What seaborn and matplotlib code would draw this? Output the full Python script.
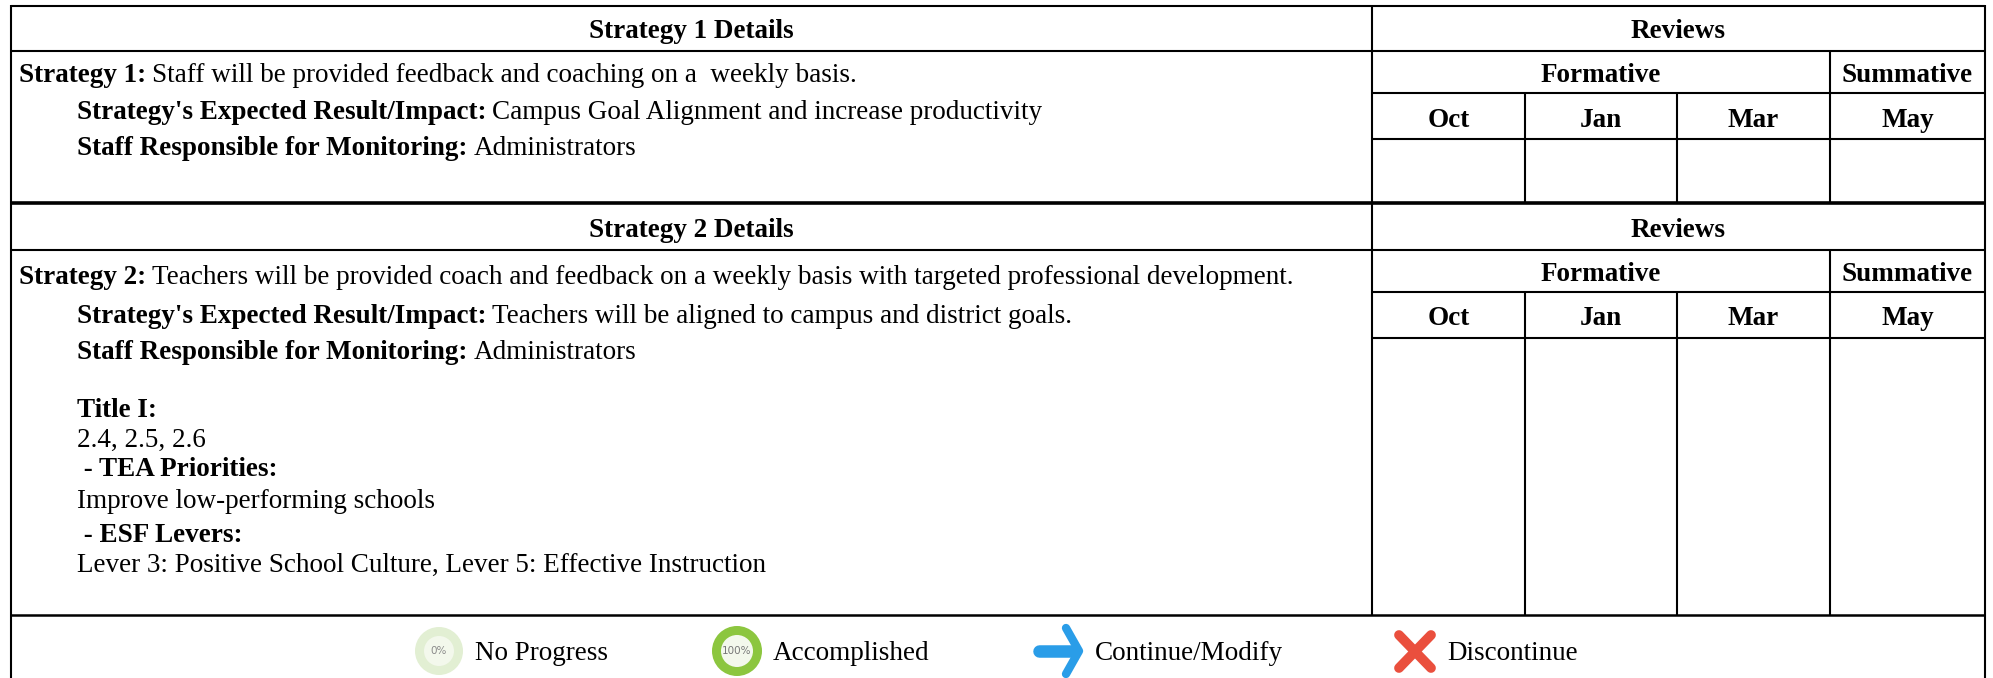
import matplotlib
matplotlib.use("Agg")
import matplotlib.pyplot as plt
from matplotlib.patches import Circle
import seaborn as sns

sns.set_theme(style="white")
plt.rcParams['font.family'] = ['Liberation Serif', 'DejaVu Serif']

months = ["Oct", "Jan", "Mar", "May"]
detail_titles = ["Strategy 1 Details", "Strategy 2 Details"]

# text rows: (bold part, regular part, x, baseline y)
rows = [
    ("Strategy 1:", " Staff will be provided feedback and coaching on a  weekly basis.", 19, 82),
    ("Strategy's Expected Result/Impact:", " Campus Goal Alignment and increase productivity", 77, 119),
    ("Staff Responsible for Monitoring:", " Administrators", 77, 155),
    ("Strategy 2:", " Teachers will be provided coach and feedback on a weekly basis with targeted professional development.", 19, 284),
    ("Strategy's Expected Result/Impact:", " Teachers will be aligned to campus and district goals.", 77, 323),
    ("Staff Responsible for Monitoring:", " Administrators", 77, 359),
    ("Title I:", "", 77, 417),
    ("", "2.4, 2.5, 2.6", 77, 447),
    (" - TEA Priorities:", "", 77, 476),
    ("", "Improve low-performing schools", 77, 508),
    (" - ESF Levers:", "", 77, 542),
    ("", "Lever 3: Positive School Culture, Lever 5: Effective Instruction", 77, 572),
]
legend_labels = ["No Progress", "Accomplished", "Continue/Modify", "Discontinue"]
legend_x = [475, 773, 1095, 1447]

fig = plt.figure(figsize=(19.93, 6.78), dpi=100)
ax = fig.add_axes([0, 0, 1, 1])
ax.set_xlim(0, 1993)
ax.set_ylim(678, 0)
ax.axis("off")
sns.despine(ax=ax, left=True, bottom=True)

left, split, right = 11, 1372, 1985
cols = [1372, 1525, 1677, 1830, 1985]
fs = 19.5


def hline(y, x0=left, x1=right, lw=1.5):
    ax.plot([x0, x1], [y, y], color="black", lw=lw, solid_capstyle="butt")


def vline(x, y0, y1, lw=1.5):
    ax.plot([x, x], [y0, y1], color="black", lw=lw, solid_capstyle="butt")


# outer frame and table rules
vline(left, 5, 678)
vline(right, 5, 678)
hline(6)
for y, lw in [(51, 1.5), (203, 2.6), (250, 1.5), (615, 1.8)]:
    hline(y, lw=lw)
for y in (93, 139, 292, 338):
    hline(y, x0=split)
for top, bottom, head, form in [(6, 203, 51, 139), (203, 615, 250, 338)]:
    vline(split, top, bottom)
    vline(cols[3], head, bottom)
    vline(cols[1], form - 46, bottom)
    vline(cols[2], form - 46, bottom)

# headers
for title, y_head, y_form, y_month in [(detail_titles[0], 38, 82, 127), (detail_titles[1], 237, 281, 325)]:
    ax.text((left + split) / 2, y_head, title, ha="center", va="baseline", fontsize=fs, fontweight="bold", color="black")
    ax.text((split + right) / 2, y_head, "Reviews", ha="center", va="baseline", fontsize=fs, fontweight="bold", color="black")
    ax.text((cols[0] + cols[3]) / 2, y_form, "Formative", ha="center", va="baseline", fontsize=fs, fontweight="bold", color="black")
    ax.text((cols[3] + cols[4]) / 2, y_form, "Summative", ha="center", va="baseline", fontsize=fs, fontweight="bold", color="black")
    for i, m in enumerate(months):
        ax.text((cols[i] + cols[i + 1]) / 2, y_month, m, ha="center", va="baseline", fontsize=fs, fontweight="bold", color="black")

# bold lead-in followed by regular text
fig.canvas.draw()
renderer = fig.canvas.get_renderer()
for bold, plain, x, y in rows:
    cur = x
    if bold:
        t = ax.text(cur, y, bold, va="baseline", fontsize=fs, fontweight="bold", color="black")
        cur = t.get_window_extent(renderer).x1
    if plain:
        ax.text(cur + (6 if bold else 0), y, plain.strip(), va="baseline", fontsize=fs, color="black")

# legend icons
cy = 651
ax.add_patch(Circle((439, cy), 24, fc="#e2efd3", ec="none"))
ax.add_patch(Circle((439, cy), 15, fc="#f3f8ec", ec="none"))
ax.text(439, cy, "0%", ha="center", va="center", fontsize=7.5, color="#8a8a8a", family="DejaVu Sans")
ax.add_patch(Circle((737, cy), 25, fc="#8cc63f", ec="none"))
ax.add_patch(Circle((737, cy), 16, fc="#f3f8ec", ec="none"))
ax.text(737, cy, "100%", ha="center", va="center", fontsize=7.5, color="#777777", family="DejaVu Sans")
ax.plot([1039, 1075], [cy, cy], color="#2a9de8", lw=9, solid_capstyle="round")
ax.plot([1066, 1079, 1066], [628, cy, 674], color="#2a9de8", lw=6, solid_capstyle="round", solid_joinstyle="round")
ax.plot([1399, 1431], [635, 668], color="#ea4f3d", lw=7, solid_capstyle="round")
ax.plot([1431, 1399], [635, 668], color="#ea4f3d", lw=7, solid_capstyle="round")
for lab, x in zip(legend_labels, legend_x):
    ax.text(x, 660, lab, va="baseline", fontsize=fs, color="black")

fig.savefig("out.png", dpi=100)
